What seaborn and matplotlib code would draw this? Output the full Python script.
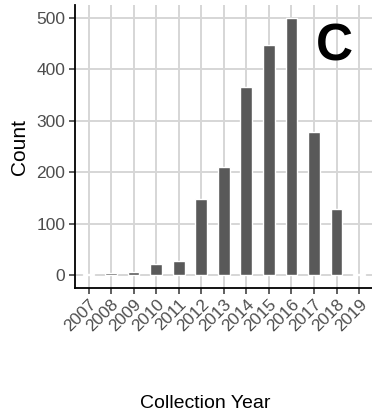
import pandas as pd
import seaborn as sns
import matplotlib.pyplot as plt

# counts per collection year
years = ['2007', '2008', '2009', '2010', '2011', '2012', '2013',
         '2014', '2015', '2016', '2017', '2018', '2019']
counts = [2, 4, 6, 23, 27, 149, 211, 366, 448, 500, 279, 128, 3]
y_ticks = [0, 100, 200, 300, 400, 500]

df = pd.DataFrame({'Year': years, 'Count': counts})

sns.set_style('white')
plt.rcParams['font.family'] = ['Liberation Sans', 'DejaVu Sans']

fig = plt.figure(figsize=(3.72, 4.13), dpi=100)
ax = fig.add_axes([0.2016, 0.302, 0.80, 0.686])

sns.barplot(data=df, x='Year', y='Count', color='#595959', width=0.52,
            saturation=1, ax=ax, zorder=3)

ax.set_xlim(-0.6, 12.6)
ax.set_ylim(-25, 525)
ax.set_yticks(y_ticks)
ax.grid(True, color='#d6d6d6', linewidth=1.4, zorder=0)
ax.set_axisbelow(True)

for s in ['top', 'right']:
    ax.spines[s].set_visible(False)
for s in ['left', 'bottom']:
    ax.spines[s].set_color('black')
    ax.spines[s].set_linewidth(1.3)

ax.tick_params(axis='both', which='major', length=4, width=1.1,
               color='#333333', labelcolor='#4d4d4d', labelsize=12.5,
               left=True, bottom=True, pad=3)
ax.tick_params(axis='x', labelsize=12.3, pad=2)
plt.setp(ax.get_xticklabels(), rotation=45, ha='right', va='top',
         rotation_mode='anchor')

ax.set_xlabel('')
ax.set_ylabel('Count', fontsize=15, color='black', labelpad=5)
fig.text(0.553, 0.012, 'Collection Year', fontsize=14, ha='center',
         va='baseline', color='black')

ax.text(0.873, 0.852, 'C', transform=ax.transAxes, fontsize=37,
        fontweight='bold', ha='center', va='center', color='black')

fig.savefig('out.png', dpi=100)
